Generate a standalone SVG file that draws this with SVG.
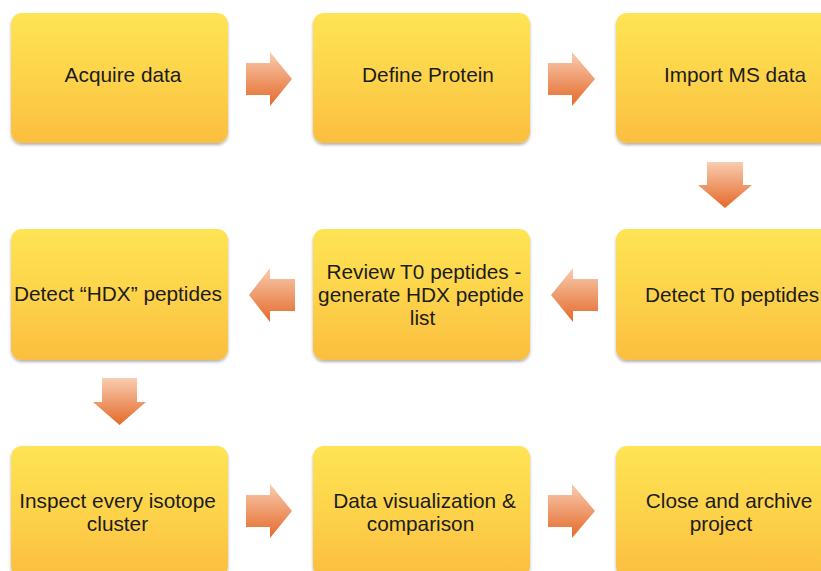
<svg xmlns="http://www.w3.org/2000/svg" width="821" height="571" viewBox="0 0 821 571">
  <defs>
    <linearGradient id="boxGrad" x1="0" y1="0" x2="0" y2="1">
      <stop offset="0" stop-color="#FEE454"/>
      <stop offset="0.5" stop-color="#FDD34A"/>
      <stop offset="1" stop-color="#FBBE3F"/>
    </linearGradient>
    <linearGradient id="arrowGrad" x1="0" y1="0" x2="0" y2="1">
      <stop offset="0" stop-color="#F8CDB0"/>
      <stop offset="1" stop-color="#E5692A"/>
    </linearGradient>
    <filter id="shadow" x="-10%" y="-10%" width="120%" height="125%">
      <feDropShadow dx="0" dy="2" stdDeviation="1.5" flood-color="#000" flood-opacity="0.3"/>
    </filter>
    <style>
      .box { fill: url(#boxGrad); filter: url(#shadow); }
      .arrow { fill: url(#arrowGrad); }
      .label { font-family: "Liberation Sans", Arial, sans-serif; font-size: 20.8px; fill: #1c1c1c; text-anchor: middle; }
    </style>
  </defs>

  <rect width="821" height="571" fill="#ffffff"/>

  <g id="connectors">
    <path class="arrow" d="M246,63 H270 V52 L292,79 L270,106 V95 H246 Z"/>
    <path class="arrow" d="M548,63 H572 V52 L595,79 L572,106 V95 H548 Z"/>
    <path class="arrow" d="M707,162 H743 V185 H752 L725,208 L698,185 H707 Z"/>
    <path class="arrow" d="M598,279 V311 H573 V322 L551,295 L573,268 V279 Z"/>
    <path class="arrow" d="M295,279 V311 H270 V322 L249,295 L270,268 V279 Z"/>
    <path class="arrow" d="M102,378 H137 V402 H146 L119.5,425 L93,402 H102 Z"/>
    <path class="arrow" d="M246,495 H270 V484 L292,511 L270,538 V527 H246 Z"/>
    <path class="arrow" d="M548,495 H572 V484 L595,511 L572,538 V527 H548 Z"/>
  </g>

  <g id="node-acquire">
    <rect class="box" x="11" y="13" width="217" height="130" rx="11"/>
    <text class="label" x="123" y="82">Acquire data</text>
  </g>
  <g id="node-define">
    <rect class="box" x="313" y="13" width="217" height="130" rx="11"/>
    <text class="label" x="428" y="82">Define Protein</text>
  </g>
  <g id="node-import">
    <rect class="box" x="616" y="13" width="217" height="130" rx="11"/>
    <text class="label" x="735" y="82">Import MS data</text>
  </g>

  <g id="node-detect-t0">
    <rect class="box" x="616" y="229" width="217" height="131" rx="11"/>
    <text class="label" x="732" y="302">Detect T0 peptides</text>
  </g>
  <g id="node-review">
    <rect class="box" x="313" y="229" width="217" height="131" rx="11"/>
    <text class="label" x="424" y="279">Review T0 peptides -</text>
    <text class="label" x="421" y="302">generate HDX peptide</text>
    <text class="label" x="422.5" y="325">list</text>
  </g>
  <g id="node-detect-hdx">
    <rect class="box" x="11" y="229" width="217" height="131" rx="11"/>
    <text class="label" x="118" y="301">Detect “HDX” peptides</text>
  </g>

  <g id="node-inspect">
    <rect class="box" x="11" y="446" width="217" height="131" rx="11"/>
    <text class="label" x="117.5" y="508">Inspect every isotope</text>
    <text class="label" x="117.5" y="531">cluster</text>
  </g>
  <g id="node-visualize">
    <rect class="box" x="313" y="446" width="217" height="131" rx="11"/>
    <text class="label" x="424.5" y="508">Data visualization &amp;</text>
    <text class="label" x="420.5" y="531">comparison</text>
  </g>
  <g id="node-close">
    <rect class="box" x="616" y="446" width="217" height="131" rx="11"/>
    <text class="label" x="729" y="507.5">Close and archive</text>
    <text class="label" x="721" y="530.5">project</text>
  </g>
</svg>
